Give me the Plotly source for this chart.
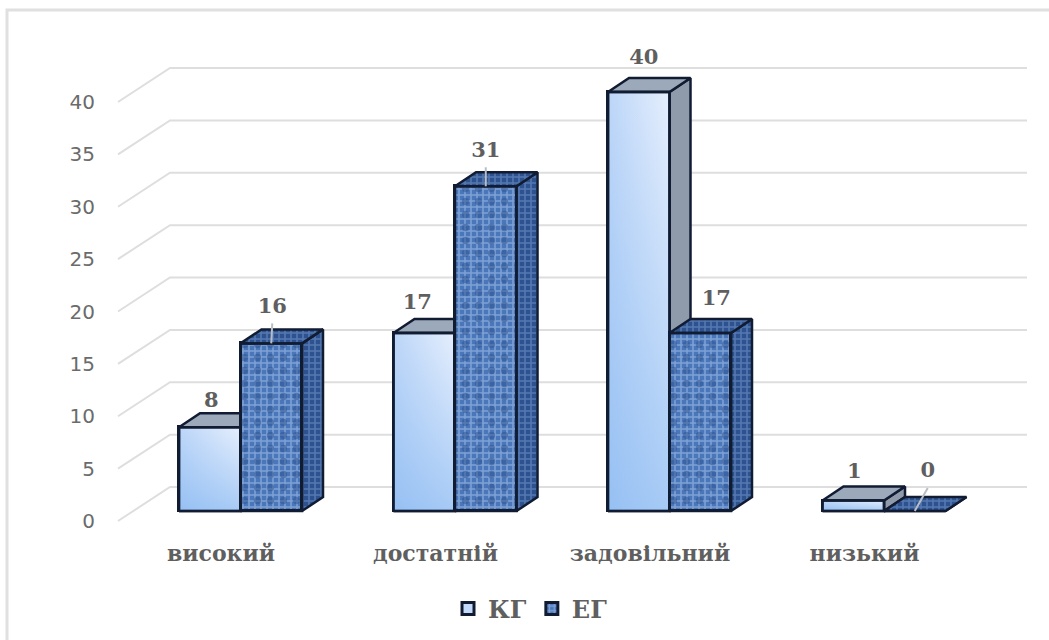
import plotly.graph_objects as go

# Chart values
categories = ["високий", "достатній", "задовільний", "низький"]
kg_values = [8, 17, 40, 1]
eg_values = [16, 31, 17, 0]
y_ticks = [0, 5, 10, 15, 20, 25, 30, 35, 40]

# Scale of the drawing, in pixels
WIDTH, HEIGHT = 1049, 640
LEFT, BOTTOM = 108, 535
CAT_STEP, UNIT = 214.5, 10.475
LABEL_X0, BAR_X0 = 221, 240.5
BASE_Y_TICK, BASE_Y_BAR = 521, 511
BAR_W, DEPTH_X, DEPTH_Y = 61.5, 21, 14
WALL_X, WALL_DY, GRID_END, FRONT_X = 170, 34, 1027, 118

# Data-label nudges relative to the bar centre and bar top, in pixels
kg_label_nudge = [(1.5, 25), (-7, 29), (5, 33), (1, 28)]
eg_label_nudge = [(1, 36), (0, 35), (16, 33), (13, 39)]

INK = "#111c33"
GREY_TEXT = "#5f5f5f"
GRID = "#dedede"
SERIF = "DejaVu Serif"


def cx(px):
    return px / CAT_STEP


def cv(px):
    return px / UNIT


bw, ddx, ddy = cx(BAR_W), cx(DEPTH_X), cv(DEPTH_Y)
fig = go.Figure()

# Back wall and floor grid, drawn as an oblique projection
grid_x, grid_y = [], []
for v in y_ticks:
    grid_x += [cx(FRONT_X - LABEL_X0), cx(WALL_X - LABEL_X0), cx(GRID_END - LABEL_X0), None]
    grid_y += [v, v + cv(WALL_DY), v + cv(WALL_DY), None]
fig.add_trace(go.Scatter(x=grid_x, y=grid_y, mode="lines", xaxis="x", yaxis="y",
                         line=dict(color=GRID, width=2), hoverinfo="skip", showlegend=False))


def faces(x0, v):
    """Top and side parallelograms of a bar starting at x0 with height v."""
    x1 = x0 + bw
    top = ([x0, x0 + ddx, x1 + ddx, x1, x0], [v, v + ddy, v + ddy, v, v])
    side = ([x1, x1 + ddx, x1 + ddx, x1, x1], [0, ddy, v + ddy, v, 0])
    return top, side


def poly(xs, ys, axis, **kw):
    fig.add_trace(go.Scatter(x=xs, y=ys, mode="lines", fill="toself", xaxis="x2", yaxis=axis,
                             line=dict(color=INK, width=2.5), hoverinfo="skip",
                             showlegend=False, **kw))


# Control group: pale blue gradient front, grey top and side
fig.add_trace(go.Bar(x=list(range(4)), y=kg_values, name="КГ", xaxis="x2", yaxis="y2",
                     width=bw, offset=-bw,
                     marker=dict(color="#c3dafa", line=dict(color=INK, width=3))))
for c, v in enumerate(kg_values):
    x0 = c - bw
    top, side = faces(x0, v)
    poly(*side, "y2", fillcolor="#8f9bab")
    poly(*top, "y2", fillcolor="#9ba9ba")
    front = ([x0, x0 + bw, x0 + bw, x0, x0], [0, 0, v, v, 0])
    poly(*front, "y2", fillgradient=dict(type="horizontal",
                                         colorscale=[[0, "#bcd6f8"], [1, "#e6effd"]]))
    poly(*front, "y2", fillgradient=dict(type="vertical",
                                         colorscale=[[0, "rgba(125,178,240,0.6)"],
                                                     [1, "rgba(125,178,240,0)"]]))

# Experimental group: woven blue texture on all faces
fig.add_trace(go.Bar(x=list(range(4)), y=eg_values, name="ЕГ", xaxis="x2", yaxis="y3",
                     width=bw, offset=0,
                     marker=dict(color="#3f6bad", line=dict(color=INK, width=3),
                                 pattern=dict(shape="+", fgcolor="#b4ccf0", bgcolor="#4a76ba",
                                              size=6, solidity=0.45))))
for c, v in enumerate(eg_values):
    top, side = faces(c, v)
    dark = dict(shape="+", fgcolor="#7c9ed4", bgcolor="#2d528f", size=6, solidity=0.45)
    poly(*side, "y3", fillcolor="#2d528f", fillpattern=dark)
    poly(*top, "y3", fillcolor="#2d528f", fillpattern=dark)
    # Coarser weave laid over the front face
    poly([c, c + bw, c + bw, c, c], [0, 0, v, v, 0], "y3", fillcolor="rgba(0,0,0,0)",
         fillpattern=dict(shape=".", fgcolor="#2c5290", bgcolor="rgba(0,0,0,0)",
                          size=13, solidity=0.25))

# Leader lines from the labels of the textured bars
leaders = [(c, v, nudge) for c, (v, nudge) in enumerate(zip(eg_values, eg_label_nudge)) if c != 2]
for c, v, (ndx, ndy) in leaders:
    xc = c + bw / 2
    fig.add_trace(go.Scatter(x=[xc, xc + cx(ndx)], y=[v, v + cv(ndy - 16)], mode="lines",
                             xaxis="x2", yaxis="y3", line=dict(color="#b9bec6", width=2),
                             hoverinfo="skip", showlegend=False))

# Value labels
lx = [c - bw / 2 + cx(n[0]) for c, n in enumerate(kg_label_nudge)] + \
     [c + bw / 2 + cx(n[0]) for c, n in enumerate(eg_label_nudge)]
ly = [v + cv(n[1]) for v, n in zip(kg_values, kg_label_nudge)] + \
     [v + cv(n[1]) for v, n in zip(eg_values, eg_label_nudge)]
fig.add_trace(go.Scatter(x=lx, y=ly, mode="text", text=[str(v) for v in kg_values + eg_values],
                         textposition="middle center", xaxis="x2", yaxis="y3",
                         textfont=dict(family=SERIF, size=21, color=GREY_TEXT, weight="bold"),
                         hoverinfo="skip", showlegend=False))


def x_range(zero):
    return [(LEFT - zero) / CAT_STEP, (WIDTH - zero) / CAT_STEP]


def y_range(zero):
    return [(zero - BOTTOM) / UNIT, zero / UNIT]


fx = lambda px: (px - LEFT) / (WIDTH - LEFT)
fy = lambda py: 1 - py / BOTTOM

fig.update_layout(
    width=WIDTH, height=HEIGHT, autosize=False,
    margin=dict(l=LEFT, r=0, t=0, b=HEIGHT - BOTTOM),
    paper_bgcolor="white", plot_bgcolor="white",
    barmode="overlay", bargap=0,
    xaxis=dict(range=x_range(LABEL_X0), tickvals=list(range(4)), ticktext=categories,
               showgrid=False, zeroline=False, showline=False, ticks="",
               ticklabelstandoff=3,
               tickfont=dict(family=SERIF, size=22, color=GREY_TEXT, weight="bold")),
    xaxis2=dict(range=x_range(BAR_X0), overlaying="x", visible=False),
    yaxis=dict(range=y_range(BASE_Y_TICK), tickvals=y_ticks, showgrid=False, zeroline=False,
               showline=False, ticks="", ticklabelstandoff=12,
               tickfont=dict(family="DejaVu Sans", size=20, color="#6b6b6b")),
    yaxis2=dict(range=y_range(BASE_Y_BAR), overlaying="y", visible=False),
    yaxis3=dict(range=y_range(BASE_Y_BAR), overlaying="y", visible=False),
    legend=dict(orientation="h", x=0.449, y=-0.138, xanchor="center", yanchor="middle",
                font=dict(family=SERIF, size=24, color=GREY_TEXT, weight="bold"),
                bgcolor="rgba(0,0,0,0)", itemwidth=30, tracegroupgap=0),
    # Open frame: left and top edges only
    shapes=[dict(type="path", xref="paper", yref="paper", layer="below",
                 path=f"M {fx(7)} {fy(640)} L {fx(7)} {fy(10)} L {fx(1049)} {fy(10)}",
                 line=dict(color="#e0e0e0", width=3))],
)

fig.write_html("out.html")
